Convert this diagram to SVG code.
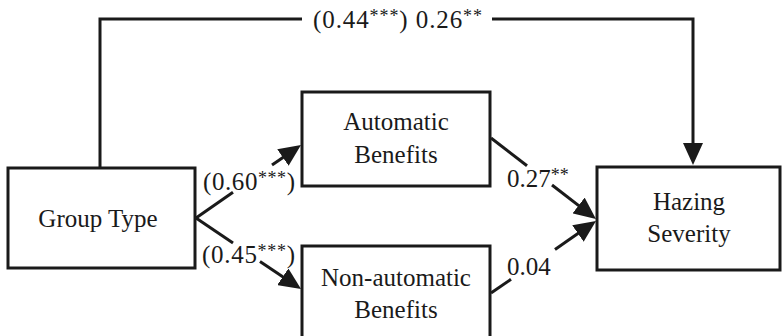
<svg xmlns="http://www.w3.org/2000/svg" width="782" height="336" viewBox="0 0 782 336">
<style>
.box{fill:#fff;stroke:#1a1a1a;stroke-width:3}
.t{font-family:"Liberation Serif","Times New Roman",serif;font-size:25px;fill:#1a1a1a}
.c{text-anchor:middle}
.ln{fill:none;stroke:#1a1a1a;stroke-width:3}
.s{font-size:18px}
</style>
<defs>
<marker id="ah" viewBox="0 0 22 20" refX="17" refY="10" markerWidth="22" markerHeight="20" markerUnits="userSpaceOnUse" orient="auto">
<path d="M0,0 L22,10 L0,20 z" fill="#1a1a1a"/>
</marker>
</defs>
<rect width="782" height="336" fill="#fff"/>
<g id="connectors">
<polyline class="ln" points="100,168 100,19 302,19"/>
<polyline class="ln" points="492,19 693,19 693,160" marker-end="url(#ah)"/>
<line class="ln" x1="196" y1="218" x2="233" y2="192.3"/>
<line class="ln" x1="272" y1="165.1" x2="296.9" y2="147.9" marker-end="url(#ah)"/>
<line class="ln" x1="196" y1="218" x2="233" y2="243"/>
<line class="ln" x1="260" y1="261.4" x2="296.9" y2="286.2" marker-end="url(#ah)"/>
<line class="ln" x1="491" y1="138" x2="527" y2="165.8"/>
<line class="ln" x1="552" y1="185" x2="592" y2="215.9" marker-end="url(#ah)"/>
<line class="ln" x1="491" y1="293" x2="511" y2="279.3"/>
<line class="ln" x1="555" y1="249.4" x2="591.9" y2="223.8" marker-end="url(#ah)"/>
<text class="t" x="313" y="28" textLength="169" lengthAdjust="spacing">(0.44<tspan class="s" dy="-6">***</tspan><tspan dy="6">) 0.26</tspan><tspan class="s" dy="-6">**</tspan></text>
<text class="t" x="203" y="190" textLength="92" lengthAdjust="spacing">(0.60<tspan class="s" dy="-6">***</tspan><tspan dy="6">)</tspan></text>
<text class="t" x="202" y="263" textLength="93" lengthAdjust="spacing">(0.45<tspan class="s" dy="-6">***</tspan><tspan dy="6">)</tspan></text>
<text class="t" x="507" y="187">0.27<tspan class="s" dy="-6">**</tspan></text>
<text class="t" x="507" y="275">0.04</text>
</g>
<g id="group-type">
<rect class="box" x="8" y="168" width="187" height="100"/>
<text class="t c" x="98" y="227">Group Type</text>
</g>
<g id="automatic-benefits">
<rect class="box" x="302" y="92" width="188" height="94"/>
<text class="t c" x="396" y="130">Automatic</text>
<text class="t c" x="396" y="163">Benefits</text>
</g>
<g id="non-automatic-benefits">
<rect class="box" x="302" y="246" width="188" height="100"/>
<text class="t c" x="396" y="286">Non-automatic</text>
<text class="t c" x="396" y="318">Benefits</text>
</g>
<g id="hazing-severity">
<rect class="box" x="597" y="167" width="183" height="103"/>
<text class="t c" x="689" y="210">Hazing</text>
<text class="t c" x="689" y="242">Severity</text>
</g>
</svg>
